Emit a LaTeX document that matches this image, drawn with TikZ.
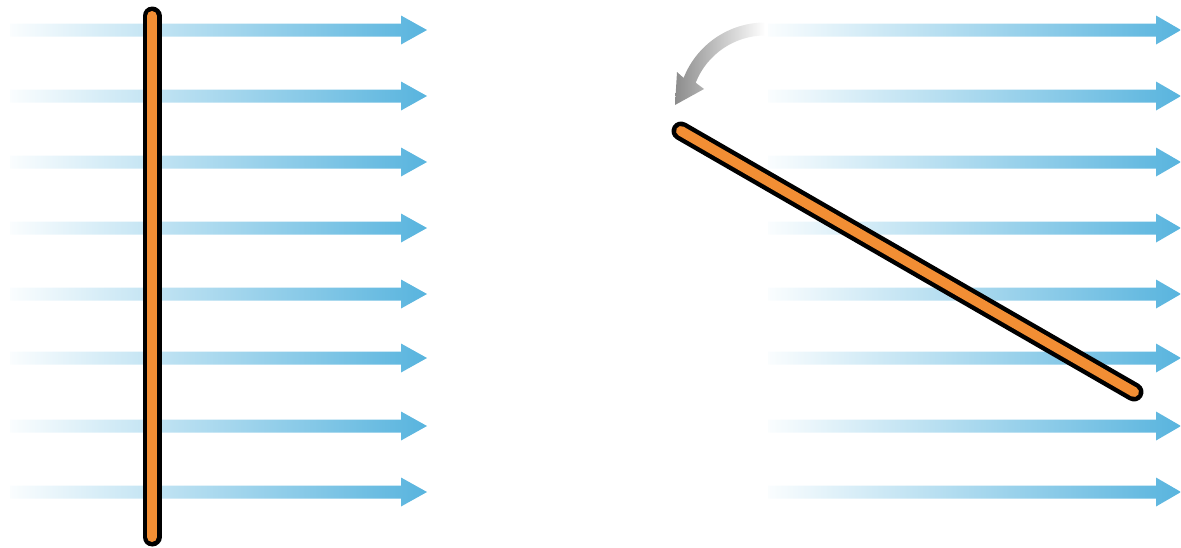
\documentclass[tikz,border=0pt]{standalone}
\definecolor{arrowblue}{RGB}{88,180,222}
\definecolor{barorange}{RGB}{242,142,52}
\definecolor{turngray}{RGB}{140,140,140}
\begin{document}
\begin{tikzpicture}[x=1pt,y=-1pt,
  flowarrow/.style={left color=arrowblue!3, middle color=arrowblue!55, right color=arrowblue, draw=none},
  barout/.style={line width=19pt, line cap=round, draw=black},
  barin/.style={line width=10pt, line cap=round, draw=barorange},
  turnarrow/.style={left color=turngray, middle color=turngray!75, right color=white, draw=none}]
\useasboundingbox (0,0) rectangle (1181,547);
% left flow arrows
\foreach \y in {30,96,162,228,294,358,426,492}{
  \shade[flowarrow] (10,\y-6.5) -- (401,\y-6.5) -- (401,\y-14.5) -- (427,\y) -- (401,\y+14.5) -- (401,\y+6.5) -- (10,\y+6.5) -- cycle;
}
% right flow arrows
\foreach \y in {30,96,162,228,294,358,426,492}{
  \shade[flowarrow] (768,\y-6.5) -- (1156,\y-6.5) -- (1156,\y-14.5) -- (1181,\y) -- (1156,\y+14.5) -- (1156,\y+6.5) -- (768,\y+6.5) -- cycle;
}
% left plate
\coordinate (lt) at (152,16);
\coordinate (lb) at (152,537);
\draw[barout] (lt) -- (lb);
\draw[barin] (lt) -- (lb);
% right plate (tilted)
\coordinate (rt) at (681,131);
\coordinate (rb) at (1134,392);
\draw[barout] (rt) -- (rb);
\draw[barin] (rt) -- (rb);
% curved rotation arrow
\shade[turnarrow] (765,22.5) .. controls (729.1,22.5) and (696.8,44.5) .. (683.6,77.9)
  -- (677,72) -- (675,105) -- (704,89) -- (695.7,82.7)
  .. controls (706.9,54.3) and (734.45,35.5) .. (765,35.5) -- cycle;
\end{tikzpicture}
\end{document}
